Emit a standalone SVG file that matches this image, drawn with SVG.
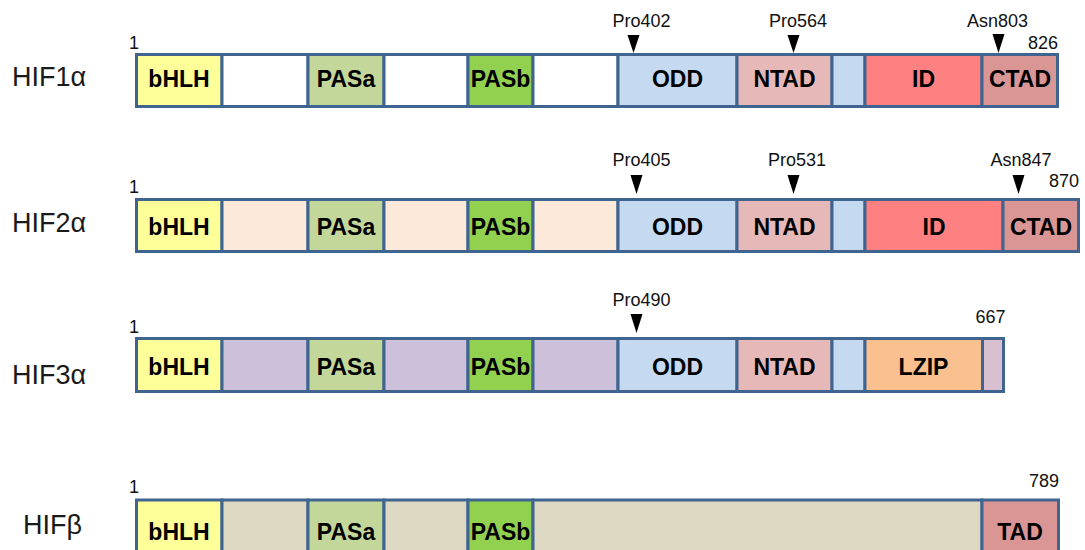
<svg xmlns="http://www.w3.org/2000/svg" width="1085" height="550" viewBox="0 0 1085 550">
  <style>
    .seg { stroke: #3f6490; stroke-width: 3; }
    .name { font-family: "Liberation Sans", Arial, sans-serif; font-size: 27px; fill: #1a1a1a; }
    .dom { font-family: "Liberation Sans", Arial, sans-serif; font-size: 23px; font-weight: bold; fill: #000; text-anchor: middle; }
    .num { font-family: "Liberation Sans", Arial, sans-serif; font-size: 18px; fill: #111; text-anchor: middle; }
    .site { fill: #000; }
    .bhlh { fill: #ffff99; }
    .pasa { fill: #c4d79b; }
    .pasb { fill: #92d050; }
    .odd { fill: #c5d9f1; }
    .ntad { fill: #e6b8b7; }
    .id { fill: #ff8080; }
    .ctad { fill: #da9694; }
    .lzip { fill: #fac090; }
    .g1 { fill: #ffffff; }
    .g2 { fill: #fde9d9; }
    .g3 { fill: #ccc0da; }
    .g4 { fill: #ddd9c3; }
  </style>

  <!-- HIF1alpha -->
  <g id="hif1a">
    <text class="name" x="12" y="86">HIF1α</text>
    <text class="num" x="134" y="48.5">1</text>
    <text class="num" x="1043" y="49">826</text>
    <rect class="seg bhlh" x="136.5" y="54.5" width="85.5" height="52"/>
    <rect class="seg g1" x="222" y="54.5" width="86" height="52"/>
    <rect class="seg pasa" x="308" y="54.5" width="76" height="52"/>
    <rect class="seg g1" x="384" y="54.5" width="84" height="52"/>
    <rect class="seg pasb" x="468" y="54.5" width="65" height="52"/>
    <rect class="seg g1" x="533" y="54.5" width="85" height="52"/>
    <rect class="seg odd" x="618" y="54.5" width="119" height="52"/>
    <rect class="seg ntad" x="737" y="54.5" width="95" height="52"/>
    <rect class="seg odd" x="832" y="54.5" width="33" height="52"/>
    <rect class="seg id" x="865" y="54.5" width="117" height="52"/>
    <rect class="seg ctad" x="982" y="54.5" width="75.5" height="52"/>
    <text class="dom" x="179" y="87">bHLH</text>
    <text class="dom" x="346" y="87">PASa</text>
    <text class="dom" x="500.5" y="87">PASb</text>
    <text class="dom" x="677.5" y="87">ODD</text>
    <text class="dom" x="784.5" y="87">NTAD</text>
    <text class="dom" x="923.5" y="87">ID</text>
    <text class="dom" x="1020" y="87">CTAD</text>
  </g>

  <!-- HIF2alpha -->
  <g id="hif2a">
    <text class="name" x="12" y="232">HIF2α</text>
    <text class="num" x="134" y="193">1</text>
    <text class="num" x="1064" y="187">870</text>
    <rect class="seg bhlh" x="136.5" y="199.5" width="85.5" height="52"/>
    <rect class="seg g2" x="222" y="199.5" width="86" height="52"/>
    <rect class="seg pasa" x="308" y="199.5" width="76" height="52"/>
    <rect class="seg g2" x="384" y="199.5" width="84" height="52"/>
    <rect class="seg pasb" x="468" y="199.5" width="65" height="52"/>
    <rect class="seg g2" x="533" y="199.5" width="85" height="52"/>
    <rect class="seg odd" x="618" y="199.5" width="119" height="52"/>
    <rect class="seg ntad" x="737" y="199.5" width="95" height="52"/>
    <rect class="seg odd" x="832" y="199.5" width="33" height="52"/>
    <rect class="seg id" x="865" y="199.5" width="138" height="52"/>
    <rect class="seg ctad" x="1003" y="199.5" width="75.5" height="52"/>
    <text class="dom" x="179" y="235">bHLH</text>
    <text class="dom" x="346" y="235">PASa</text>
    <text class="dom" x="500.5" y="235">PASb</text>
    <text class="dom" x="677.5" y="235">ODD</text>
    <text class="dom" x="784.5" y="235">NTAD</text>
    <text class="dom" x="934" y="235">ID</text>
    <text class="dom" x="1041" y="235">CTAD</text>
  </g>

  <!-- HIF3alpha -->
  <g id="hif3a">
    <text class="name" x="12" y="384">HIF3α</text>
    <text class="num" x="134" y="333">1</text>
    <text class="num" x="990.5" y="323">667</text>
    <rect class="seg bhlh" x="136.5" y="338.5" width="85.5" height="53"/>
    <rect class="seg g3" x="222" y="338.5" width="86" height="53"/>
    <rect class="seg pasa" x="308" y="338.5" width="76" height="53"/>
    <rect class="seg g3" x="384" y="338.5" width="84" height="53"/>
    <rect class="seg pasb" x="468" y="338.5" width="65" height="53"/>
    <rect class="seg g3" x="533" y="338.5" width="85" height="53"/>
    <rect class="seg odd" x="618" y="338.5" width="119" height="53"/>
    <rect class="seg ntad" x="737" y="338.5" width="95" height="53"/>
    <rect class="seg odd" x="832" y="338.5" width="33" height="53"/>
    <rect class="seg lzip" x="865" y="338.5" width="117.5" height="53"/>
    <rect class="seg" x="982.5" y="338.5" width="21" height="53" fill="#d8c0d0"/>
    <text class="dom" x="179" y="375">bHLH</text>
    <text class="dom" x="346" y="375">PASa</text>
    <text class="dom" x="500.5" y="375">PASb</text>
    <text class="dom" x="677.5" y="375">ODD</text>
    <text class="dom" x="784.5" y="375">NTAD</text>
    <text class="dom" x="923.5" y="375">LZIP</text>
  </g>

  <!-- HIF beta -->
  <g id="hifb">
    <text class="name" x="23" y="534">HIFβ</text>
    <text class="num" x="134" y="493">1</text>
    <text class="num" x="1044" y="487">789</text>
    <rect class="seg bhlh" x="136.5" y="500" width="85.5" height="54"/>
    <rect class="seg g4" x="222" y="500" width="86" height="54"/>
    <rect class="seg pasa" x="308" y="500" width="76" height="54"/>
    <rect class="seg g4" x="384" y="500" width="84" height="54"/>
    <rect class="seg pasb" x="468" y="500" width="65" height="54"/>
    <rect class="seg g4" x="533" y="500" width="449" height="54"/>
    <rect class="seg ctad" x="982" y="500" width="76.5" height="54"/>
    <text class="dom" x="179" y="540">bHLH</text>
    <text class="dom" x="346" y="540">PASa</text>
    <text class="dom" x="500.5" y="540">PASb</text>
    <text class="dom" x="1020" y="540">TAD</text>
  </g>

  <!-- modification sites -->
  <g id="sites">
    <text class="num" x="641.5" y="27">Pro402</text>
    <text class="num" x="798" y="27">Pro564</text>
    <text class="num" x="997.5" y="27">Asn803</text>
    <polygon class="site" points="627.5,35 639.5,35 633.5,53"/>
    <polygon class="site" points="787.5,35 799.5,35 793.5,53"/>
    <polygon class="site" points="992.5,34 1004.5,34 998.5,53"/>

    <text class="num" x="641.5" y="166">Pro405</text>
    <text class="num" x="797" y="166">Pro531</text>
    <text class="num" x="1021" y="166">Asn847</text>
    <polygon class="site" points="630.5,175 642.5,175 636.5,194"/>
    <polygon class="site" points="787.5,175 799.5,175 793.5,194"/>
    <polygon class="site" points="1012.5,175 1024.5,175 1018.5,194"/>

    <text class="num" x="641.5" y="305.5">Pro490</text>
    <polygon class="site" points="630.5,314 642.5,314 636.5,333"/>
  </g>
</svg>
